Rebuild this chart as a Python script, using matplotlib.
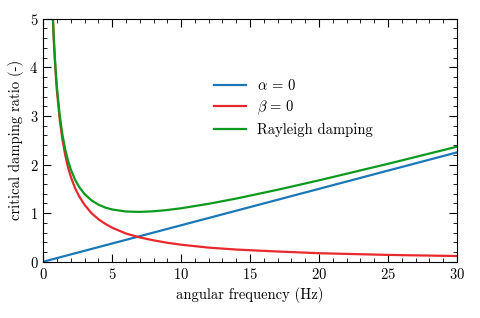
import numpy as np
import matplotlib
matplotlib.use('Agg')
import matplotlib.pyplot as plt
from matplotlib.ticker import MultipleLocator

plt.rcParams['font.family'] = 'cmr10'
plt.rcParams['mathtext.fontset'] = 'cm'
plt.rcParams['axes.formatter.use_mathtext'] = True
plt.rcParams['axes.unicode_minus'] = False
plt.rcParams['font.size'] = 10.5

# values
freq_red = [0.7, 0.75, 0.8, 0.9, 1.0, 1.2, 1.4, 1.6, 1.8, 2.0, 2.3, 2.6, 3.0, 3.5, 4.0,
            4.5, 5, 6, 7, 8, 9, 10, 12, 14, 17, 20, 25, 30]
beta_zero = [5.0, 4.67, 4.375, 3.89, 3.5, 2.92, 2.5, 2.19, 1.94, 1.75, 1.52, 1.35, 1.17, 1.0, 0.875,
             0.78, 0.70, 0.58, 0.50, 0.44, 0.39, 0.35, 0.29, 0.25, 0.21, 0.175, 0.14, 0.117]
rayleigh = [5.05, 4.72, 4.435, 3.956, 3.575, 3.007, 2.605, 2.308, 2.079, 1.90, 1.694, 1.541, 1.392, 1.263, 1.175,
            1.115, 1.075, 1.033, 1.025, 1.038, 1.064, 1.10, 1.192, 1.30, 1.481, 1.675, 2.015, 2.367]
freq_blue = [0, 30]
alpha_zero = [0, 2.25]

fig = plt.figure(figsize=(4.8, 3.18), dpi=100)
ax = fig.add_axes([0.09, 0.177, 0.862, 0.764])

ax.plot(freq_blue, alpha_zero, color='#1a78b8', lw=1.6, label=r'$\alpha\,=\,0$')
ax.plot(freq_red, beta_zero, color='#e8282c', lw=1.6, label=r'$\beta\,=\,0$')
ax.plot(freq_red, rayleigh, color='#0c9a1e', lw=1.6, label='Rayleigh damping')

ax.set_xlim(0, 30)
ax.set_ylim(0, 5)
ax.xaxis.set_major_locator(MultipleLocator(5))
ax.xaxis.set_minor_locator(MultipleLocator(1))
ax.yaxis.set_major_locator(MultipleLocator(1))
ax.yaxis.set_minor_locator(MultipleLocator(0.2))
ax.tick_params(which='both', direction='in', top=True, right=True)
ax.tick_params(which='major', length=6)
ax.tick_params(which='minor', length=3)

ax.set_xlabel('angular frequency (Hz)')
ax.set_ylabel('critical damping ratio (-)')

ax.legend(loc='upper left', bbox_to_anchor=(0.38, 0.81), frameon=False,
          handlelength=2.2, labelspacing=0.4)

fig.savefig('out.png', dpi=100)
